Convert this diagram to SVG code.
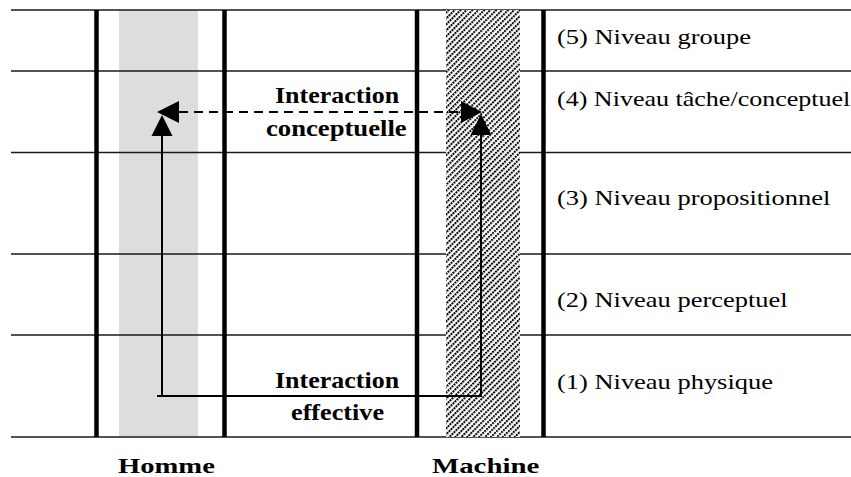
<svg xmlns="http://www.w3.org/2000/svg" width="851" height="477" viewBox="0 0 851 477">
  <style>
    .grid { stroke: #1a1a1a; stroke-width: 1.5; fill: none; }
    .col { stroke: #000; stroke-width: 4.5; fill: none; }
    .lvl { font-family: "Liberation Serif", "Times New Roman", serif; font-size: 21px; fill: #000; }
    .bold { font-family: "Liberation Serif", "Times New Roman", serif; font-size: 23px; font-weight: bold; fill: #000; }
    .foot { font-family: "Liberation Serif", "Times New Roman", serif; font-size: 22px; font-weight: bold; fill: #000; }
    .solid { stroke: #000; stroke-width: 2; fill: none; }
    .dash { stroke: #000; stroke-width: 2; fill: none; stroke-dasharray: 9 6; }
    .head { fill: #000; stroke: none; }
  </style>
  <defs>
    <pattern id="hatch" patternUnits="userSpaceOnUse" width="4.2" height="2.8" patternTransform="rotate(45)">
      <rect x="0" y="0" width="2" height="2" fill="#000"/>
    </pattern>
  </defs>
  <rect width="851" height="477" fill="#fff"/>

  <g id="homme-band">
    <rect x="119" y="10" width="79" height="427" fill="#dddddd"/>
  </g>

  <g id="grid">
    <line class="grid" x1="11" y1="10" x2="851" y2="10"/>
    <line class="grid" x1="11" y1="71" x2="851" y2="71"/>
    <line class="grid" x1="11" y1="152.5" x2="851" y2="152.5"/>
    <line class="grid" x1="11" y1="254" x2="851" y2="254"/>
    <line class="grid" x1="11" y1="335" x2="851" y2="335"/>
    <line class="grid" x1="11" y1="437" x2="851" y2="437"/>
  </g>

  <g id="machine-band">
    <rect x="446" y="10" width="74" height="427" fill="#fff"/>
    <rect x="446" y="10" width="74" height="427" fill="url(#hatch)"/>
  </g>

  <g id="columns">
    <line class="col" x1="96.5" y1="10" x2="96.5" y2="437"/>
    <line class="col" x1="224.5" y1="10" x2="224.5" y2="437"/>
    <line class="col" x1="417" y1="10" x2="417" y2="437"/>
    <line class="col" x1="543.5" y1="10" x2="543.5" y2="437"/>
  </g>

  <g id="level5" transform="translate(557,44) scale(1.26,1)"><text class="lvl">(5) Niveau groupe</text></g>
  <g id="level4" transform="translate(557,106) scale(1.24,1)"><text class="lvl">(4) Niveau tâche/conceptuel</text></g>
  <g id="level3" transform="translate(557,205) scale(1.26,1)"><text class="lvl">(3) Niveau propositionnel</text></g>
  <g id="level2" transform="translate(557,306.5) scale(1.26,1)"><text class="lvl">(2) Niveau perceptuel</text></g>
  <g id="level1" transform="translate(557,389) scale(1.26,1)"><text class="lvl">(1) Niveau physique</text></g>

  <g id="connectors">
    <path class="solid" d="M481 135 V396 H157 M162 396 V135"/>
    <polygon class="head" points="162,115 151.5,136 172.5,136"/>
    <polygon class="head" points="481,114 470.5,135 491.5,135"/>
    <line class="dash" x1="179" y1="112" x2="462" y2="112"/>
    <polygon class="head" points="157,112 179,101 179,123"/>
    <polygon class="head" points="482,112 461,101 461,123"/>
  </g>

  <g id="label-conceptuelle">
    <text class="bold" transform="translate(275,103) scale(1.13,1)">Interaction</text>
    <text class="bold" transform="translate(266,136) scale(1.16,1)">conceptuelle</text>
  </g>
  <g id="label-effective">
    <text class="bold" transform="translate(275,388) scale(1.13,1)">Interaction</text>
    <text class="bold" transform="translate(291,420) scale(1.14,1)">effective</text>
  </g>

  <g id="homme"><text class="foot" transform="translate(118,473) scale(1.3,1)">Homme</text></g>
  <g id="machine"><text class="foot" transform="translate(432,473) scale(1.31,1)">Machine</text></g>
</svg>
